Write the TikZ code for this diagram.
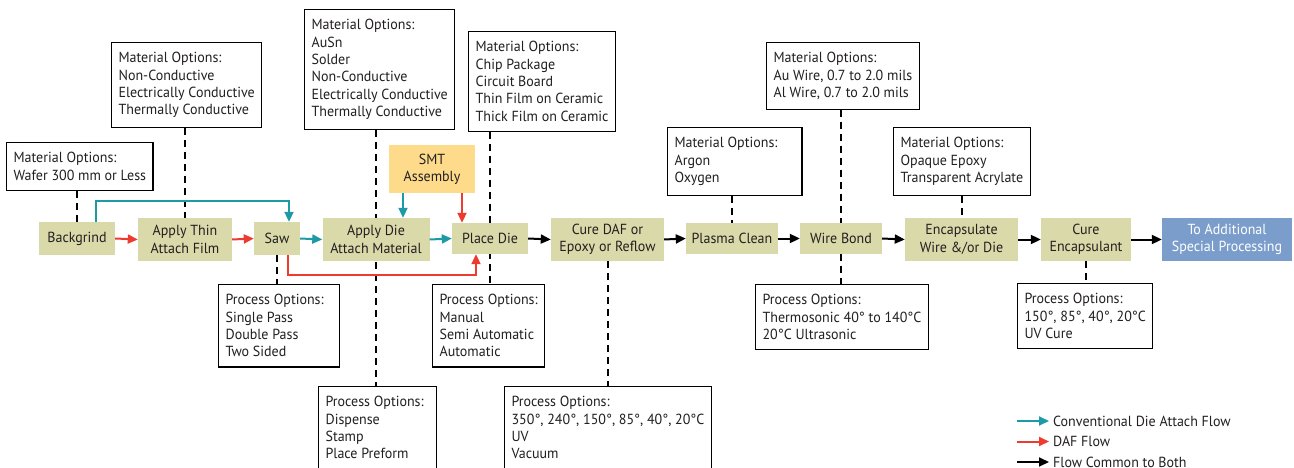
\documentclass[tikz,border=0pt]{standalone}
\usepackage{fontspec}
\setmainfont[FakeStretch=0.96]{PT Sans}
\usetikzlibrary{arrows.meta,backgrounds}
\definecolor{procc}{HTML}{D9D9A9}
\definecolor{smtc}{HTML}{FDDB8B}
\definecolor{bluc}{HTML}{7B9DCB}
\definecolor{convc}{HTML}{1E9AA6}
\definecolor{dafc}{HTML}{EE3B30}
\definecolor{txtc}{HTML}{231F20}
\newcommand\myfs{\fontsize{14.6}{17.3}\selectfont}
\tikzset{
  procbox/.style={fill=procc, align=center, inner sep=0pt, font=\myfs, text=txtc},
  optbox/.style={draw=black, line width=1.2pt, fill=white, anchor=north west, align=left,
     inner xsep=7pt, inner ysep=10pt, font=\myfs, text=txtc},
  dashln/.style={line width=2pt, dash pattern=on 7pt off 5pt},
  tipx/.style={-{Triangle[length=10pt,width=9pt]}},
  convarr/.style={tipx, line width=2pt, draw=convc},
  dafarr/.style={tipx, line width=2pt, draw=dafc},
  comarr/.style={tipx, line width=2pt, draw=black},
  legtxt/.style={anchor=west, inner sep=0pt, font=\myfs, text=txtc}
}
\begin{document}
\begin{tikzpicture}[x=1pt,y=-1pt]
\useasboundingbox (0,0) rectangle (1294,468);
% process boxes
\node[procbox, minimum width=76pt, minimum height=33pt] (bg) at (77,238.5) {Backgrind};
\node[procbox, minimum width=94pt, minimum height=43pt] (thin) at (185,239.5) {Apply Thin\\Attach Film};
\node[procbox, minimum width=46pt, minimum height=33pt] (saw) at (277,238.5) {Saw};
\node[procbox, minimum width=107pt, minimum height=43pt] (adie) at (376,239.5) {Apply Die\\Attach Material};
\node[procbox, minimum width=76pt, minimum height=31pt] (place) at (490,238.5) {Place Die};
\node[procbox, fill=smtc, minimum width=86pt, minimum height=48pt] (smt) at (432,169) {SMT\\Assembly};
\node[procbox, minimum width=113pt, minimum height=43pt] (cure) at (607.5,239.5) {Cure DAF or\\Epoxy or Reflow};
\node[procbox, minimum width=92pt, minimum height=31pt] (plasma) at (732,238.5) {Plasma Clean};
\node[procbox, minimum width=82pt, minimum height=31pt] (wire) at (841,238.5) {Wire Bond};
\node[procbox, minimum width=113pt, minimum height=43pt] (encap) at (961.5,239.5) {Encapsulate\\Wire \&/or Die};
\node[procbox, minimum width=90pt, minimum height=43pt] (cenc) at (1086,239.5) {Cure\\Encapsulant};
\node[procbox, fill=bluc, text=white, minimum width=130pt, minimum height=43pt] (addl) at (1227,239.5) {To Additional\\Special Processing};
% option boxes
\node[optbox] (wafer) at (6,142) {Material Options:\\Wafer 300 mm or Less};
\node[optbox] (mat1) at (111,42) {Material Options:\\Non-Conductive\\Electrically Conductive\\Thermally Conductive};
\node[optbox] (mat2) at (304,9) {Material Options:\\AuSn\\Solder\\Non-Conductive\\Electrically Conductive\\Thermally Conductive};
\node[optbox] (mat3) at (468,31) {Material Options:\\Chip Package\\Circuit Board\\Thin Film on Ceramic\\Thick Film on Ceramic};
\node[optbox] (au) at (766,42) {Material Options:\\Au Wire, 0.7 to 2.0 mils\\Al Wire, 0.7 to 2.0 mils};
\node[optbox, minimum width=129pt] (argon) at (667,127) {Material Options:\hspace*{1.2em}\\Argon\\Oxygen};
\node[optbox] (opaque) at (893,127) {Material Options:\\Opaque Epoxy\\Transparent Acrylate};
\node[optbox] (sp) at (218,284) {Process Options:\hspace*{0.6em}\\Single Pass\\Double Pass\\Two Sided};
\node[optbox] (disp) at (318,386) {Process Options:\hspace*{0.4em}\\Dispense\\Stamp\\Place Preform};
\node[optbox] (man) at (432,284) {Process Options:\\Manual\\Semi Automatic\\Automatic};
\node[optbox] (t350) at (504,386) {Process Options:\\350\textdegree, 240\textdegree, 150\textdegree, 85\textdegree, 40\textdegree, 20\textdegree C\hspace*{0.6em}\\UV\\Vacuum};
\node[optbox] (thermo) at (755,284) {Process Options:\\Thermosonic 40\textdegree{} to 140\textdegree C\\20\textdegree C Ultrasonic};
\node[optbox] (p150) at (1017,283) {Process Options:\hspace*{0.6em}\\150\textdegree, 85\textdegree, 40\textdegree, 20\textdegree C\\UV Cure};
% dashed links
\begin{pgfonlayer}{background}
\draw[dashln] (wafer.south -| bg.center) -- (bg.north);
\draw[dashln] (mat1.south -| thin.center) -- (thin.north);
\draw[dashln] (mat2.south -| adie.center) -- (disp.north -| adie.center);
\draw[dashln] (mat3.south -| place.center) -- (man.north -| place.center);
\draw[dashln] (argon.south -| plasma.center) -- (plasma.north);
\draw[dashln] (au.south -| wire.center) -- (thermo.north -| wire.center);
\draw[dashln] (opaque.south -| encap.center) -- (encap.north);
\draw[dashln] (saw.south) -- (sp.north -| saw.center);
\draw[dashln] (cure.south) -- (t350.north -| cure.center);
\draw[dashln] (cenc.south) -- (p150.north -| cenc.center);
\end{pgfonlayer}
% flows
\draw[convarr] ([xshift=19pt]bg.north) |- ++(0,-21) -| ([xshift=12pt]saw.north);
\draw[dafarr] (bg.east) -- (thin.west);
\draw[dafarr] (thin.east) -- (saw.west);
\draw[convarr] (saw.east) -- (adie.west);
\draw[convarr] (adie.east) -- (place.west);
\draw[convarr] ([xshift=-29pt]smt.south) -- ([xshift=-29pt]smt.south |- adie.north);
\draw[dafarr] ([xshift=30pt]smt.south) -- ([xshift=30pt]smt.south |- place.north);
\draw[dafarr] ([xshift=11pt]saw.south) -- ++(0,20) -| ([xshift=-14pt]place.south);
\draw[comarr] (place.east) -- (cure.west);
\draw[comarr] (cure.east) -- (plasma.west);
\draw[comarr] (plasma.east) -- (wire.west);
\draw[comarr] (wire.east) -- (encap.west);
\draw[comarr] (encap.east) -- (cenc.west);
\draw[comarr] (cenc.east) -- (addl.west);
% legend
\coordinate (l1a) at (1017,421); \coordinate (l1b) at (1049,421);
\coordinate (l2a) at (1017,441.5); \coordinate (l2b) at (1049,441.5);
\coordinate (l3a) at (1017,462); \coordinate (l3b) at (1049,462);
\draw[convarr] (l1a) -- (l1b);
\draw[dafarr] (l2a) -- (l2b);
\draw[comarr] (l3a) -- (l3b);
\node[legtxt] (lt1) at (1053,421) {Conventional Die Attach Flow};
\node[legtxt] (lt2) at (1053,441.5) {DAF Flow};
\node[legtxt] (lt3) at (1053,462) {Flow Common to Both};
\end{tikzpicture}
\end{document}
